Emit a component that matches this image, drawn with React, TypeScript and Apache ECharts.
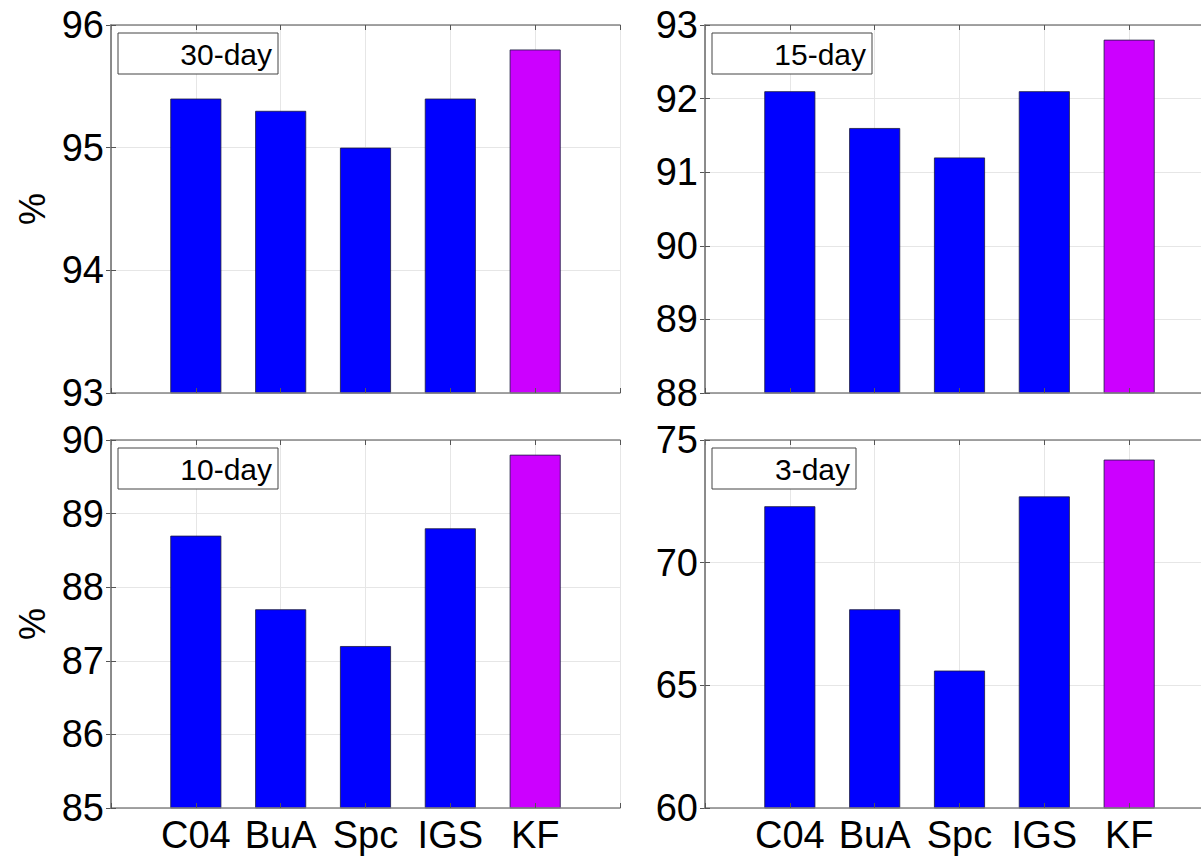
import React, { useEffect, useRef } from "react";
import * as echarts from "echarts";

const categories = ["C04", "BuA", "Spc", "IGS", "KF"];
const panelTitles = ["30-day", "15-day", "10-day", "3-day"];
const values30 = [95.4, 95.3, 95.0, 95.4, 95.8];
const values15 = [92.1, 91.6, 91.2, 92.1, 92.8];
const values10 = [88.7, 87.7, 87.2, 88.8, 89.8];
const values3 = [72.3, 68.1, 65.6, 72.7, 74.2];
const yRanges = [
  [93, 96, 1],
  [88, 93, 1],
  [85, 90, 1],
  [60, 75, 5],
];
const allValues = [values30, values15, values10, values3];

const FONT = "Liberation Sans, Arial, sans-serif";

export default function App() {
  const ref = useRef<HTMLDivElement>(null);
  useEffect(() => {
    if (!ref.current) return;
    const chart = echarts.init(ref.current, undefined, { renderer: "svg" });
    const grids = [
      { left: 111, top: 25, width: 509, height: 368 },
      { left: 705, top: 25, width: 509, height: 368 },
      { left: 111, top: 440, width: 509, height: 368 },
      { left: 705, top: 440, width: 509, height: 368 },
    ];
    const xAxes: any[] = [];
    const yAxes: any[] = [];
    const series: any[] = [];
    const graphics: any[] = [];
    const lineStyle = { color: "#858585", width: 1.5 };
    const tick = { show: true, inside: true, length: 5, lineStyle: { color: "#555" } };
    const split = { show: true, lineStyle: { color: "#e6e6e6", width: 1 } };
    grids.forEach((g, i) => {
      const bottomRow = i >= 2;
      xAxes.push({
        type: "value",
        gridIndex: i,
        min: 0,
        max: 6,
        interval: 1,
        position: "bottom",
        z: 5,
        axisLine: { show: true, lineStyle },
        axisTick: tick,
        axisLabel: {
          show: bottomRow,
          color: "#000",
          fontSize: 38,
          fontFamily: FONT,
          margin: 8,
          formatter: (v: number) => (v >= 1 && v <= 5 ? categories[v - 1] : ""),
        },
        splitLine: { show: false },
      });
      xAxes.push({
        type: "value",
        gridIndex: i,
        min: 0,
        max: 6,
        interval: 1,
        position: "top",
        z: 0,
        axisLine: { show: true, lineStyle },
        axisTick: tick,
        axisLabel: { show: false },
        splitLine: split,
      });
      const [mn, mx, iv] = yRanges[i];
      yAxes.push({
        type: "value",
        gridIndex: i,
        min: mn,
        max: mx,
        interval: iv,
        position: "left",
        z: 5,
        axisLine: { show: true, lineStyle },
        axisTick: tick,
        axisLabel: { color: "#000", fontSize: 38, fontFamily: FONT, margin: 7 },
        splitLine: { show: false },
      });
      yAxes.push({
        type: "value",
        gridIndex: i,
        min: mn,
        max: mx,
        interval: iv,
        position: "right",
        z: 0,
        axisLine: { show: true, lineStyle },
        axisTick: tick,
        axisLabel: { show: false },
        splitLine: split,
      });
      series.push({
        type: "bar",
        xAxisIndex: i * 2,
        yAxisIndex: i * 2,
        barWidth: 51,
        z: 2,
        data: allValues[i].map((v, k) => ({
          value: [k + 1, v],
          itemStyle: {
            color: k === 4 ? "#cc00ff" : "#0000ff",
            borderColor: "#1a1a40",
            borderWidth: 0.8,
          },
        })),
      });
      const boxW = i === 3 ? 144 : 160;
      const bx = g.left + 7;
      const by = g.top + 8;
      graphics.push({
        type: "rect",
        shape: { x: bx, y: by, width: boxW, height: 41 },
        style: { fill: "#fff", stroke: "#444", lineWidth: 1 },
        z: 10,
      });
      graphics.push({
        type: "text",
        x: bx + boxW - 6,
        y: by + 21,
        style: {
          text: panelTitles[i],
          fill: "#000",
          font: `30px ${FONT}`,
          align: "right",
          verticalAlign: "middle",
        },
        z: 11,
      });
      if (i % 2 === 0) {
        graphics.push({
          type: "text",
          x: 32,
          y: g.top + g.height / 2,
          rotation: Math.PI / 2,
          style: {
            text: "%",
            fill: "#000",
            font: `36px ${FONT}`,
            align: "center",
            verticalAlign: "middle",
          },
        });
      }
    });
    chart.setOption({
      animation: false,
      backgroundColor: "#fff",
      grid: grids.map((g) => ({ ...g, containLabel: false })),
      xAxis: xAxes,
      yAxis: yAxes,
      series,
      graphic: graphics,
    });
    return () => chart.dispose();
  }, []);
  return (
    <div
      style={{
        position: "fixed",
        left: 0,
        top: 0,
        width: 1201,
        height: 856,
        overflow: "hidden",
        background: "#fff",
      }}
    >
      <div ref={ref} style={{ width: 1240, height: 856 }} />
    </div>
  );
}
